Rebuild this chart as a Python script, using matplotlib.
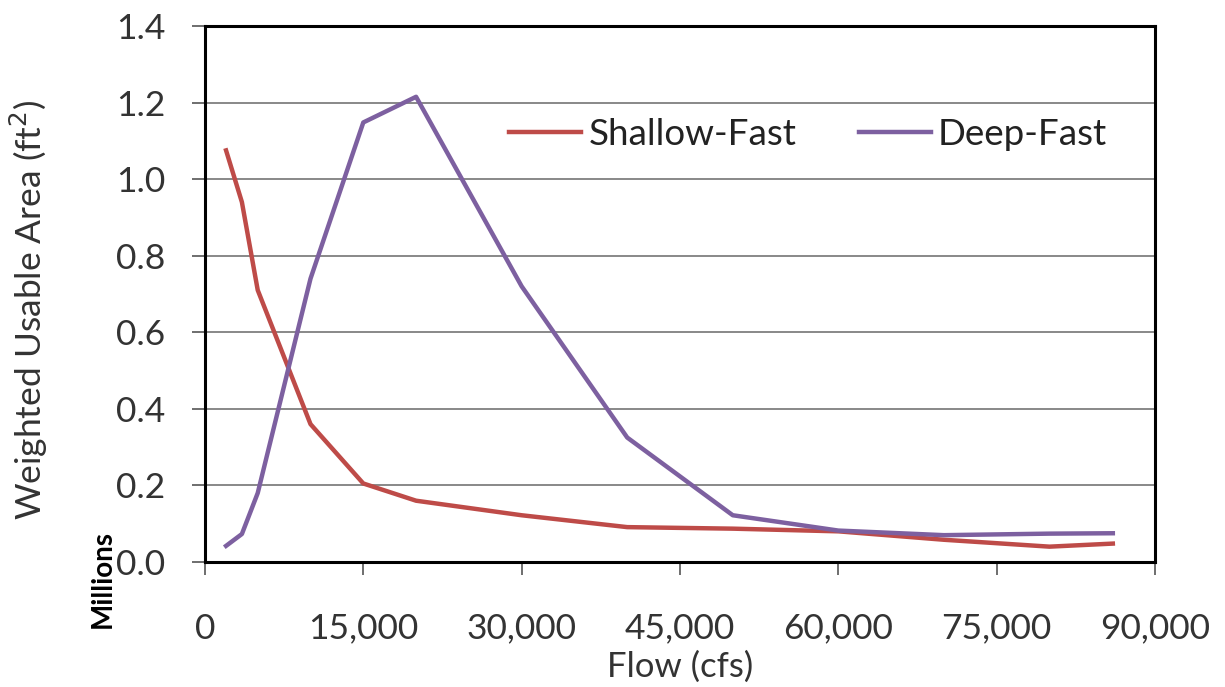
import matplotlib

matplotlib.use("Agg")
import matplotlib.pyplot as plt
from matplotlib.ticker import FuncFormatter, MultipleLocator

plt.rcParams["font.family"] = ["Lato", "DejaVu Sans"]

# flow (cfs) and weighted usable area (millions of ft^2)
flow = [2000, 3500, 5000, 10000, 15000, 20000, 30000, 40000, 50000, 60000, 70000, 80000, 86000]
shallow_fast = [1.075, 0.94, 0.71, 0.36, 0.205, 0.16, 0.122, 0.091, 0.087, 0.08, 0.058, 0.04, 0.048]
deep_fast = [0.042, 0.073, 0.18, 0.74, 1.148, 1.215, 0.72, 0.325, 0.122, 0.082, 0.07, 0.074, 0.075]

RED = "#BE4B48"
PURPLE = "#7D60A0"

fig = plt.figure(figsize=(12.25, 6.87), dpi=100)
ax = fig.add_axes([0.1673, 0.182, 0.7756, 0.7802])

ax.plot(flow, shallow_fast, color=RED, lw=3.2, label="Shallow-Fast", solid_joinstyle="round")
ax.plot(flow, deep_fast, color=PURPLE, lw=3.2, label="Deep-Fast", solid_joinstyle="round")

ax.set_xlim(0, 90000)
ax.set_ylim(0, 1.4)
ax.xaxis.set_major_locator(MultipleLocator(15000))
ax.yaxis.set_major_locator(MultipleLocator(0.2))
ax.xaxis.set_major_formatter(FuncFormatter(lambda v, p: f"{int(v):,}"))
ax.yaxis.set_major_formatter(FuncFormatter(lambda v, p: f"{v:.1f}"))
ax.yaxis.grid(True, color="#7f7f7f", lw=1.3)
ax.set_axisbelow(True)

for s in ax.spines.values():
    s.set_linewidth(2.2)
    s.set_color("black")

ax.tick_params(axis="both", direction="out", length=9.5, width=1.2, color="#555555",
               labelsize=25.5, labelcolor="#333333")
ax.tick_params(axis="x", pad=27)
ax.tick_params(axis="y", pad=19)

ax.set_xlabel("Flow (cfs)", fontsize=25, color="#333333", labelpad=4)
ax.set_ylabel("Weighted Usable Area (ft$^2$)", fontsize=25.5, color="#333333")
ax.yaxis.set_label_coords(-0.163, 0.47)
fig.text(0.084, 1 - 628 / 687, "Millions", rotation=90, fontsize=20, fontweight="bold",
         ha="center", va="bottom")

ax.legend(loc="center", bbox_to_anchor=(0.635, 0.797), ncol=2, frameon=False,
          fontsize=26.5, handlelength=1.95, handletextpad=0.2, columnspacing=1.7,
          labelcolor="#222222")

fig.savefig("out.png", dpi=100)
